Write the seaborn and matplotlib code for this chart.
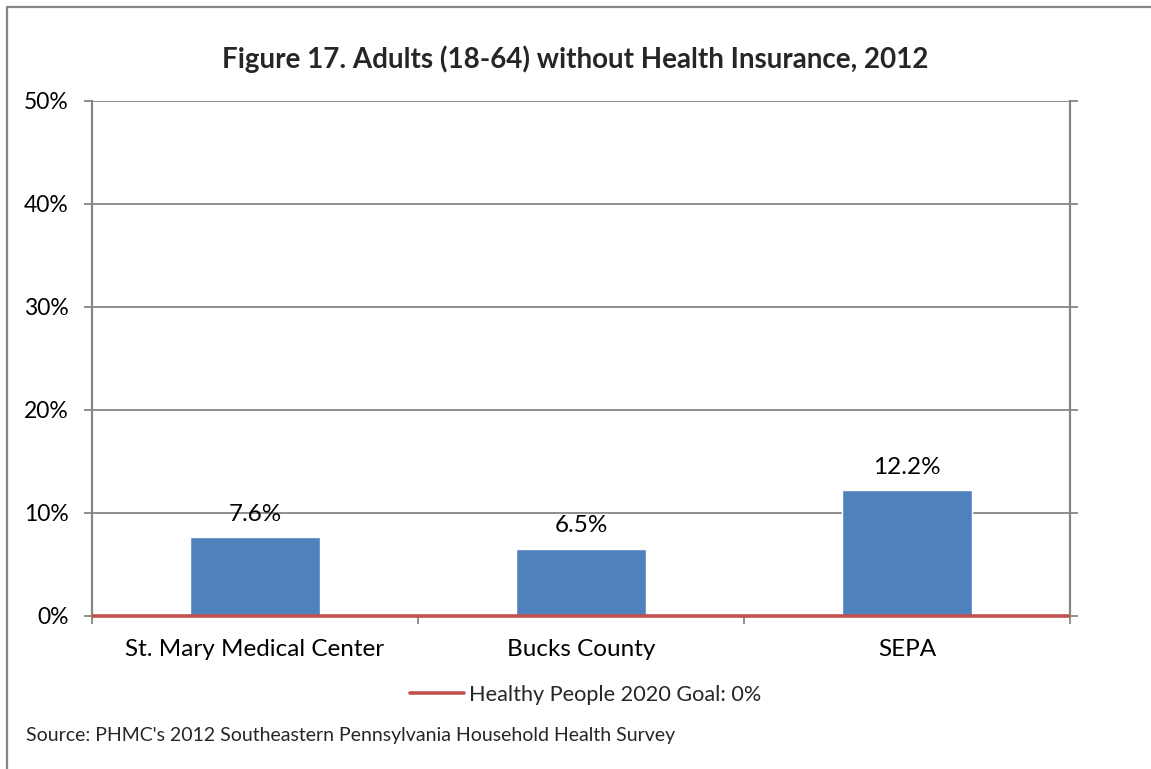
import matplotlib
matplotlib.use("Agg")
import matplotlib.pyplot as plt
import seaborn as sns
from matplotlib.lines import Line2D

categories = ["St. Mary Medical Center", "Bucks County", "SEPA"]
values = [7.6, 6.5, 12.2]
value_labels = ["7.6%", "6.5%", "12.2%"]
goal_value = 0.0
goal_label = "Healthy People 2020 Goal: 0%"
yticks = [0, 10, 20, 30, 40, 50]
ytick_labels = ["0%", "10%", "20%", "30%", "40%", "50%"]
title = "Figure 17. Adults (18-64) without Health Insurance, 2012"
source = "Source: PHMC's 2012 Southeastern Pennsylvania Household Health Survey"

sns.set_theme(style="white")
plt.rcParams["font.family"] = ["Lato", "DejaVu Sans"]

GRAY = "#868686"
BAR = "#4F81BD"
RED = "#C0504D"

fig = plt.figure(figsize=(11.51, 7.69), dpi=100)
ax = fig.add_axes([92/1151, 1-615.7/769, (1070-92)/1151, (615.7-100.7)/769])

sns.barplot(x=categories, y=values, color=BAR, width=0.4, ax=ax, saturation=1, zorder=3)
ax.axhline(goal_value, color=RED, lw=2.6, zorder=4, solid_capstyle="butt", clip_on=False)

ax.set_xlim(-0.5, 2.5)
ax.set_ylim(0, 50)
ax.set_yticks(yticks)
ax.set_yticklabels(ytick_labels)
ax.yaxis.grid(True, color=GRAY, lw=1.3, zorder=0)
ax.set_axisbelow(True)
ax.set_xlabel("")
ax.set_ylabel("")

for sp in ax.spines.values():
    sp.set_visible(False)
for side in ["left", "right"]:
    ax.spines[side].set_visible(True)
    ax.spines[side].set_color(GRAY)
    ax.spines[side].set_linewidth(1.6)

ax.tick_params(axis="y", which="major", left=True, right=True, length=6, width=1.3,
               color=GRAY, direction="out", labelsize=16.5, pad=11, labelcolor="black")
ax.tick_params(axis="x", which="major", length=0, labelsize=17.5, pad=17, labelcolor="black")
ax.set_xticks([-0.5, 0.5, 1.5, 2.5], minor=True)
ax.tick_params(axis="x", which="minor", bottom=True, length=6, width=1.3, color=GRAY, direction="out")

for i, (v, lab) in enumerate(zip(values, value_labels)):
    ax.annotate(lab, (i, v), xytext=(0, 9), textcoords="offset points",
                ha="center", va="bottom", fontsize=17.5, color="black")

fig.text(0.4995, 1-59/769, title, ha="center", va="center", fontsize=20, fontweight="bold")

handle = Line2D([], [], color=RED, lw=2.6)
leg = fig.legend([handle], [goal_label], loc="center", bbox_to_anchor=(586/1151, 1-695/769),
                 frameon=False, fontsize=15.6, handlelength=2.5, handletextpad=0.23)

fig.text(26/1151, 1-735/769, source, ha="left", va="center", fontsize=14)

# outer border (left and top)
fig.add_artist(Line2D([7/1151, 7/1151], [0, 1-7/769], transform=fig.transFigure, color=GRAY, lw=1.6))
fig.add_artist(Line2D([7/1151, 1], [1-7/769, 1-7/769], transform=fig.transFigure, color=GRAY, lw=1.6))

fig.savefig("out.png", dpi=100)
